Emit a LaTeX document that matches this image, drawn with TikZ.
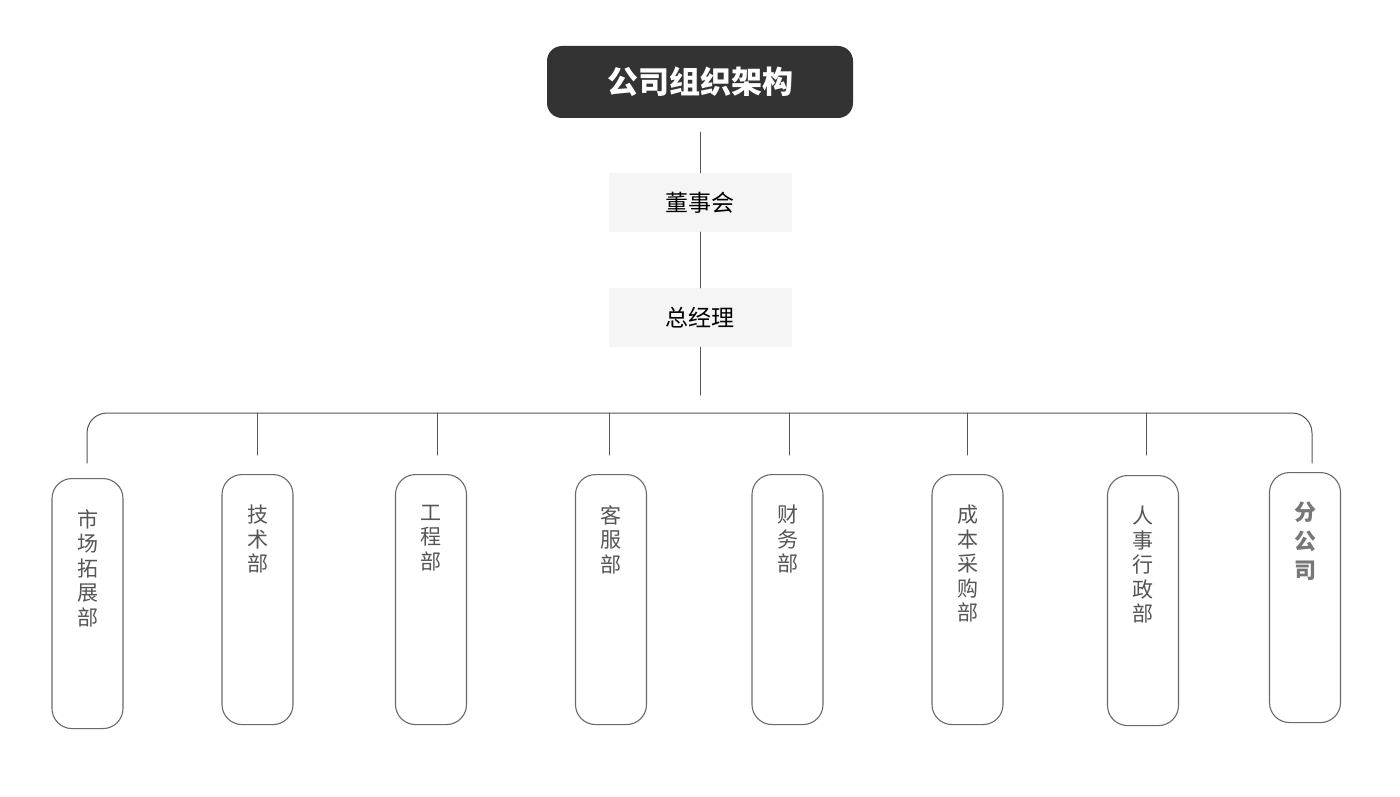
\documentclass[tikz,border=0pt]{standalone}
\usepackage{fontspec}
\setmainfont{Noto Sans CJK SC}
\usetikzlibrary{positioning}
\definecolor{titlebg}{HTML}{333333}
\definecolor{lvlbg}{HTML}{F5F5F5}
\definecolor{linegray}{HTML}{555555}
\definecolor{boxgray}{HTML}{6A6A6A}
\definecolor{textgray}{HTML}{555555}
\definecolor{subgray}{HTML}{777777}
\begin{document}
\begin{tikzpicture}[x=1pt,y=-1pt,line join=round,line cap=round]
	\tikzset{titlebox/.style={fill=titlebg,rounded corners=15pt,minimum width=306pt,minimum height=72pt,text=white,font=\fontsize{31}{31}\selectfont\bfseries},
		lvlbox/.style={fill=lvlbg,minimum width=183pt,minimum height=59pt,font=\fontsize{23}{23}\selectfont},
		deptbox/.style={draw=boxgray,line width=1.1pt,rounded corners=20pt,minimum width=71pt,minimum height=250pt,anchor=north},
		depttext/.style={inner sep=0pt,align=center,text=textgray,font=\fontsize{21}{24.5}\selectfont},
		conn/.style={draw=linegray,line width=1pt}}
	\useasboundingbox[fill=white] (0,0) rectangle (1400,797);
	\node[titlebox] (title) at (700,82) {公司组织架构};
	\node[lvlbox] (board) at (700,202.5) {董事会};
	\node[lvlbox] (gm) at (700,317.5) {总经理};
	\draw[conn] ([yshift=-14pt]title.south) -- (board.north);
	\draw[conn] (board.south) -- (gm.north);
	\draw[conn] (gm.south) -- ++(0,48);
	% departments
	\coordinate (bus) at (700,413);
	\foreach \i/\cx/\top/\dx/\txt in {1/87.5/478/87/{市\\场\\拓\\展\\部},2/257.5/474/257/{技\\术\\部},3/431/474/437/{工\\程\\部},4/611/474/609/{客\\服\\部},5/787.5/474/789/{财\\务\\部},6/967.5/474/967/{成\\本\\采\\购\\部},7/1143/475/1146/{人\\事\\行\\政\\部}}{
		\node[deptbox] (d\i) at (\cx,\top) {};
		\node[depttext,below=31pt of d\i.north] (t\i) {\txt};
		\coordinate (j\i) at (\dx,455);
	}
	\node[deptbox] (d8) at (1305,472) {};
	\node[depttext,below=30pt of d8.north,text=subgray,font=\fontsize{22}{29}\selectfont\bfseries] (t8) {分\\公\\司};
	\coordinate (j1) at (87,463);
	\coordinate (j8) at (1312,463);
	\draw[conn,rounded corners=20pt] (j1) |- (bus) -| (j8);
	\foreach \i in {2,...,7}
	\draw[conn] (j\i |- bus) -- (j\i);
\end{tikzpicture}
\end{document}
